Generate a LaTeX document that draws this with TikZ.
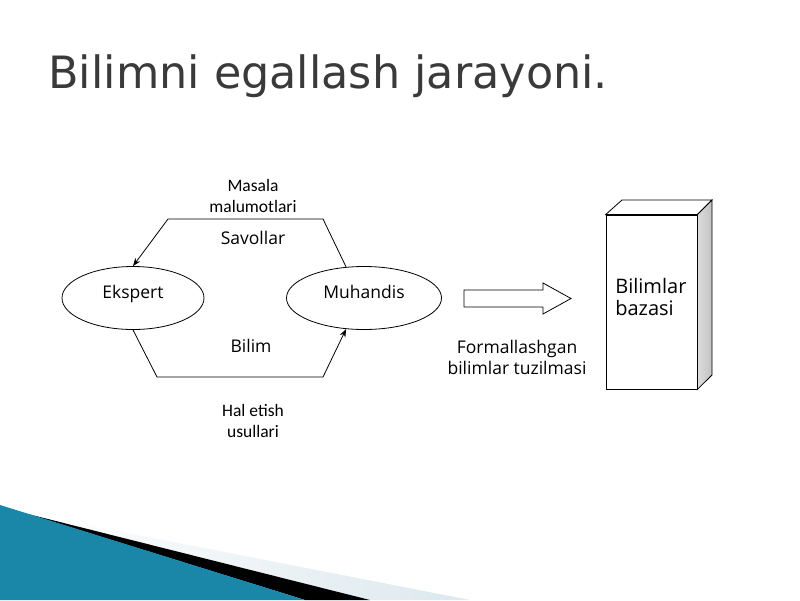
\documentclass[tikz,border=0pt]{standalone}
\usepackage{fontspec}
\setmainfont{Open Sans}
\newfontfamily\titlefont{DejaVu Sans}
\newfontfamily\notefont{Carlito}
\usetikzlibrary{shapes.geometric, arrows.meta}
\definecolor{titlegray}{HTML}{3A3A3A}
\definecolor{tealdark}{HTML}{1A86A8}
\definecolor{teallight}{HTML}{5BBCD8}
\definecolor{fadeblue}{HTML}{DCE8EE}
\definecolor{sidelight}{HTML}{DCDCDC}
\definecolor{sidedark}{HTML}{C2C2C2}

\begin{document}
\begin{tikzpicture}[x=1pt, y=-1pt, line width=0.8pt,
  role/.style={draw, ellipse, minimum height=63pt, inner sep=0pt},
  lbl/.style={align=center, font=\fontsize{17.5}{21}\selectfont},
  rolelbl/.style={lbl, text height=12.5pt, text depth=0pt, yshift=6pt},
  note/.style={align=center, font=\notefont\fontsize{17.5}{21}\selectfont}]
\useasboundingbox (0,0) rectangle (800,600);
% bottom corner decoration
\shade[left color=white, right color=fadeblue] (25,513) -- (470,600) -- (370,600) -- cycle;
\fill[black] (28,514) -- (370,600) -- (305,600) -- cycle;
\shade[left color=tealdark, middle color=teallight, right color=tealdark] (0,505) -- (305,600) -- (0,600) -- cycle;
% title
\node[anchor=base west, inner sep=0pt, text=titlegray, font=\titlefont\fontsize{44.5}{50}\selectfont] (title) at (48,88) {Bilimni egallash jarayoni.};
% expert and engineer
\node[role, minimum width=142pt, label={[rolelbl]center:Ekspert}] (ekspert) at (133,298) {};
\node[role, minimum width=155pt, label={[rolelbl]center:Muhandis}] (muhandis) at (364,298) {};
\coordinate (tr) at (323,219);
\coordinate (tl) at (168,219);
\coordinate (bl) at (157,377);
\coordinate (br) at (323,377);
\draw [->, >={Stealth[length=8pt, width=6pt]}] (muhandis.120) -- (tr) -- (tl) -- (ekspert.north);
\draw [->, >={Stealth[length=8pt, width=6pt]}] (ekspert.south) -- (bl) -- (br) -- (muhandis.240);
\node[note] (masala) at (253,196) {Masala\\malumotlari};
\node[lbl] (savollar) at (253,238) {Savollar};
\node[lbl] (bilim) at (251,346) {Bilim};
\node[note] (usullar) at (253,421) {Hal etish\\usullari};
% block arrow
\draw (464,290) -- (543,290) -- (543,283) -- (571,298.5) -- (543,314) -- (543,307) -- (464,307) -- cycle;
\node[lbl] (formal) at (517,357) {Formallashgan\\bilimlar tuzilmasi};
% knowledge base box
\node[draw, fill=white, minimum width=91pt, minimum height=174pt, inner sep=0pt] (kb) at (651.5,302) {};
\draw[fill=white] (kb.north west) -- (622,200) -- (712,200) -- (kb.north east) -- cycle;
\shade[draw, left color=sidelight, right color=sidedark] (kb.north east) -- (712,200) -- (712,375) -- (kb.south east) -- cycle;
\node[lbl, align=left, anchor=west, font=\fontsize{20}{22}\selectfont] (kbtext) at ([xshift=6pt, yshift=5pt]kb.west) {Bilimlar\\bazasi};
\end{tikzpicture}
\end{document}
